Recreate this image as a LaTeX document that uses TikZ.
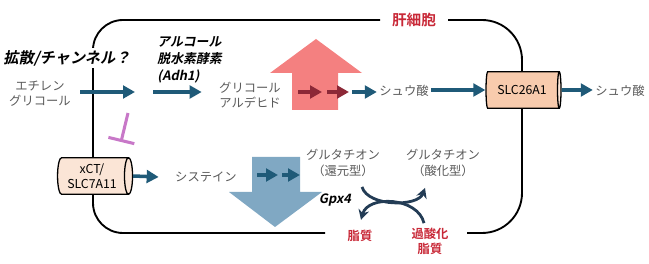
\documentclass[tikz,border=0pt]{standalone}
\usepackage{fontspec}
\setmainfont{Noto Sans CJK JP}[BoldFont={* Bold}, ItalicFont={*}, ItalicFeatures={FakeSlant=0.2}, BoldItalicFont={* Bold}, BoldItalicFeatures={FakeSlant=0.2}]
\usetikzlibrary{shapes.geometric, arrows.meta, positioning, calc}
\definecolor{flowteal}{RGB}{31, 90, 120}
\definecolor{txtgrey}{RGB}{90, 90, 90}
\definecolor{alarmred}{RGB}{200, 40, 55}
\definecolor{darkred}{RGB}{140, 40, 55}
\definecolor{pinkup}{RGB}{244, 128, 128}
\definecolor{bluedown}{RGB}{128, 168, 195}
\definecolor{tubefill}{RGB}{248, 203, 173}
\definecolor{tubelight}{RGB}{251, 229, 214}
\definecolor{curvenavy}{RGB}{35, 60, 85}
\definecolor{inhibpink}{RGB}{200, 120, 200}

\tikzset{
  label/.style={text=txtgrey, font=\fontsize{10.5}{13}\selectfont, align=center, inner sep=2pt},
  enzyme/.style={font=\fontsize{11}{14.5}\selectfont\bfseries\itshape, align=left, inner sep=1pt},
  lipid/.style={text=alarmred, font=\fontsize{10.5}{13}\selectfont\bfseries, align=center, inner sep=1pt},
  flow/.style={draw=flowteal, line width=3pt, -{Triangle[length=0.36cm, width=0.38cm]}},
  redflow/.style={flow, draw=darkred},
  membrane/.style={draw=black, line width=1.6pt},
  tube/.style={cylinder, draw=black, line width=1.1pt, shape border rotate=0, aspect=0.3,
    minimum height=2.25cm, minimum width=1.1cm, cylinder uses custom fill,
    cylinder body fill=#1, cylinder end fill=tubelight, align=center, inner sep=1pt,
    font=\fontsize{10.5}{12.5}\selectfont},
  swap/.style={draw=curvenavy, line width=2.4pt, -{Stealth[length=0.3cm, width=0.32cm]}},
  inhibit/.style={draw=inhibpink, line width=2.6pt, -{Bar[width=0.8cm]}}
}

\begin{document}
\begin{tikzpicture}[x=0.03cm, y=-0.03cm]
  \useasboundingbox (0,0) rectangle (649,264);

  % cell membrane
  \draw[membrane] (325,233) [rounded corners=0.9cm] -- (93,233) -- (93,20) -- (380,20);
  \draw[membrane] (448,20) [rounded corners=1.2cm] -- (522,20) -- (522,233) -- (467,233);
  \node[text=alarmred, font=\fontsize{12.5}{14}\selectfont\bfseries] (liver) at (414,20) {肝細胞};

  % big block arrows
  \fill[pinkup] (292,110) -- (292,73) -- (270,73) -- (316,39) -- (362,73) -- (338,73) -- (338,110) -- cycle;
  \fill[bluedown] (252,157) -- (300,157) -- (300,192) -- (322,192) -- (275,227) -- (229,192) -- (252,192) -- cycle;

  % upper pathway
  \node[label] (eg) at (40,94) {エチレン\\グリコール};
  \node[font=\fontsize{13}{15}\selectfont\bfseries\itshape, fill=white, inner sep=2pt] (diff) at (67,58) {拡散/チャンネル？};
  \node[enzyme, anchor=west] (adh) at (156,60) {アルコール\\脱水素酵素\\(Adh1)};
  \node[label] (ga) at (250,95) {グリコール\\アルデヒド};
  \node[label] (ox1) at (404,91) {シュウ酸};
  \node[tube=tubefill] (slc26) at (522,90) {SLC26A1};
  \node[label] (ox2) at (620,91) {シュウ酸};

  \coordinate (gate) at (135,92);
  \coordinate (adhin) at (153,92);
  \draw[flow] (eg.east |- gate) ++(7,0) -- (gate);
  \draw[flow] (adhin) -- ([xshift=-0.45cm]ga.west |- adhin);
  \foreach \a/\b in {298/322, 327/349}
    \draw[redflow] (\a,92) -- (\b,92);
  \draw[flow] (352,92) -- (ox1.west |- 0,92);
  \draw[flow] (ox1.east |- slc26) -- (slc26.west);
  \draw[flow] (slc26.east) -- (ox2.west |- slc26);

  % lower pathway
  \node[tube=tubelight] (xct) at (92,176) {xCT/\\SLC7A11};
  \node[label] (cys) at (206,177) {システイン};
  \node[label] (gsh) at (343,163) {グルタチオン\\（還元型）};
  \node[label] (gssg) at (443,163) {グルタチオン\\（酸化型）};
  \node[enzyme] (gpx) at (335,200) {Gpx4};
  \node[lipid] (lip) at (360,236) {脂質};
  \node[lipid] (lipox) at (430,241) {過酸化\\脂質};

  \draw[flow] (xct.east) -- ([xshift=-0.42cm]cys.west);
  \foreach \a/\b in {257/278, 282/300}
    \draw[flow] (\a,175) -- (\b,175);
  \draw[swap] ($(gsh.south)+(19,8)$) .. controls +(6,20) and +(-7,19) .. ($(gssg.south)+(-18,9)$);
  \draw[swap] ($(lipox.north)+(-6,-3)$) .. controls +(-6,-26) and +(7,-25) .. ($(lip.north)+(1,-9)$);

  % inhibition
  \draw[inhibit] (128,113) -- (121,142);
\end{tikzpicture}
\end{document}
